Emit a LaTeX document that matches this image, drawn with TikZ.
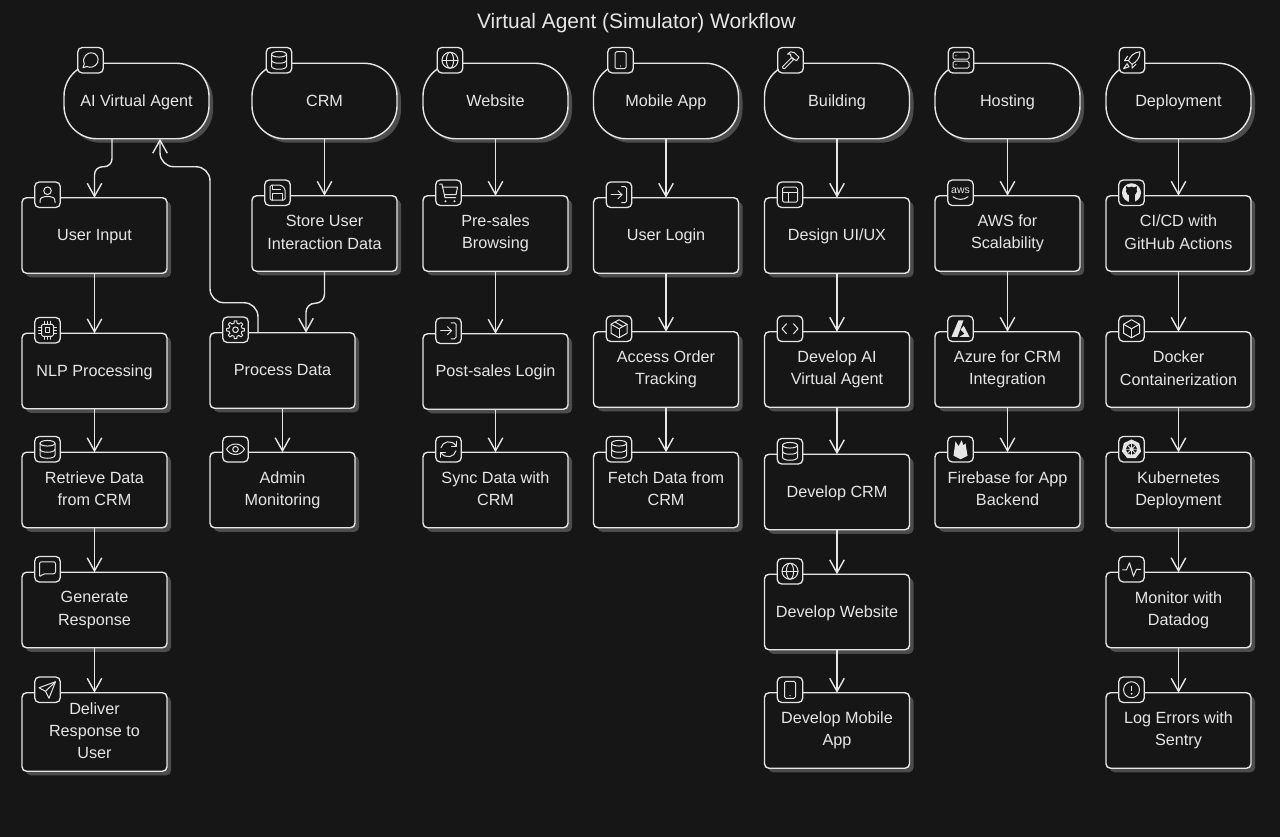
\documentclass[tikz,border=0pt]{standalone}
\usepackage{fontspec}
\setmainfont{Liberation Sans}
\usetikzlibrary{arrows.meta,shadows}
\definecolor{pagebg}{HTML}{161616}
\definecolor{ink}{HTML}{E6E6E6}
\definecolor{shadowgray}{HTML}{4C4C4C}
\tikzset{
  card/.style={draw=ink,fill=pagebg,line width=1.4pt,text=ink,outer sep=0pt,align=center,
    minimum width=145pt,minimum height=75.5pt,rounded corners=4.5pt,
    general shadow={shadow xshift=4pt,shadow yshift=-4pt,fill=shadowgray},
    execute at begin node={\rule{0pt}{13.4pt}},execute at end node={\rule[-2.5pt]{0pt}{2.5pt}},
    font=\fontsize{16.2}{22.3}\selectfont},
  pill/.style={card,rounded corners=33pt},
  iconbox/.style={draw=ink,fill=pagebg,line width=1.3pt,outer sep=0pt,inner sep=0pt,
    minimum width=25.5pt,minimum height=25.5pt,rounded corners=4.5pt},
  flowarrow/.style={draw=ink,line width=1.4pt,-{Straight Barb[length=13pt,width=14.5pt]}},
  iconink/.style={draw=ink,line width=1pt,line cap=round,line join=round},
  chatic/.pic={\draw[iconink] (-7.5,7.5) -- (-6.2,3.6) .. controls (-9,-3) and (-3,-8) .. (1,-7.5) .. controls (6,-7.5) and (9,-2) .. (7,2.5) .. controls (5,7) and (-1,8) .. (-3.5,6.2) -- cycle;},
  dbic/.pic={\draw[iconink] (0,-6) ellipse[x radius=7.5,y radius=2.8];
    \draw[iconink] (-7.5,-6) -- (-7.5,6) .. controls (-7.5,10) and (7.5,10) .. (7.5,6) -- (7.5,-6);
    \draw[iconink] (-7.5,0) .. controls (-7.5,4) and (7.5,4) .. (7.5,0);},
  useric/.pic={\draw[iconink] (0,-4) circle[radius=3.8];
    \draw[iconink] (-7.5,8) -- (-7.5,6.5) .. controls (-7.5,3) and (-5,2) .. (-3,2) -- (3,2) .. controls (5,2) and (7.5,3) .. (7.5,6.5) -- (7.5,8);},
  saveic/.pic={\draw[iconink,rounded corners=1.5pt] (-7.5,-7.5) -- (4,-7.5) -- (7.5,-4) -- (7.5,7.5) -- (-7.5,7.5) -- cycle;
    \draw[iconink] (-5,7.5) -- (-5,1) -- (5,1) -- (5,7.5);
    \draw[iconink] (-5,-7.5) -- (-5,-3) -- (3,-3);},
  cpuic/.pic={\draw[iconink,rounded corners=1.5pt] (-6,-6) rectangle (6,6);
    \draw[iconink] (-2.3,-2.3) rectangle (2.3,2.3);
    \draw[iconink] (-3,-6) -- (-3,-9) (0,-6) -- (0,-9) (3,-6) -- (3,-9) (-3,6) -- (-3,9) (0,6) -- (0,9) (3,6) -- (3,9);
    \draw[iconink] (-6,-3) -- (-9,-3) (-6,0) -- (-9,0) (-6,3) -- (-9,3) (6,-3) -- (9,-3) (6,0) -- (9,0) (6,3) -- (9,3);},
  gearic/.pic={\draw[iconink] plot[domain=0:360,samples=120] (\x:{6.6+2.4*min(1,max(0,1.5*cos(8*\x)+.4))}) -- cycle;
    \draw[iconink] (0,0) circle[radius=2.8];},
  eyeic/.pic={\draw[iconink] (-9,0) .. controls (-5,-7) and (5,-7) .. (9,0) .. controls (5,7) and (-5,7) .. (-9,0) -- cycle;
    \draw[iconink] (0,0) circle[radius=2.8];},
  msgic/.pic={\draw[iconink,rounded corners=2pt] (-8,8) -- (-8,-7.5) -- (8,-7.5) -- (8,4.5) -- (-4.5,4.5) -- cycle;},
  sendic/.pic={\draw[iconink] (8,-8) -- (-8.5,-2) -- (-2,1.5) -- (1.5,8.5) -- cycle;
    \draw[iconink] (8,-8) -- (-2,1.5);},
  globeic/.pic={\draw[iconink] (0,0) circle[radius=8];
    \draw[iconink] (0,0) ellipse[x radius=3.6,y radius=8];
    \draw[iconink] (-8,0) -- (8,0);},
  cartic/.pic={\draw[iconink] (-9,-8.5) -- (-6.5,-8.5) -- (-3.5,5) -- (7,5);
    \draw[iconink] (-5.8,-5.5) -- (9,-5.5) -- (7.5,2) -- (-4.2,2);
    \fill[ink] (-3,8.5) circle[radius=1.1] (6,8.5) circle[radius=1.1];},
  loginic/.pic={\draw[iconink,rounded corners=1.5pt] (2.5,-8) -- (7.5,-8) -- (7.5,8) -- (2.5,8);
    \draw[iconink] (-8,0) -- (3,0);
    \draw[iconink] (-1,-4) -- (3,0) -- (-1,4);},
  refreshic/.pic={\draw[iconink] (-7.5,-1.5) .. controls (-6,-8) and (3,-10) .. (7.5,-3.5);
    \draw[iconink] (8,-8) -- (8,-3) -- (3,-3);
    \draw[iconink] (7.5,1.5) .. controls (6,8) and (-3,10) .. (-7.5,3.5);
    \draw[iconink] (-8,8) -- (-8,3) -- (-3,3);},
  boxic/.pic={\draw[iconink] (0,-9) -- (8,-4.5) -- (8,4.5) -- (0,9) -- (-8,4.5) -- (-8,-4.5) -- cycle;
    \draw[iconink] (-8,-4.5) -- (0,0) -- (8,-4.5);
    \draw[iconink] (0,0) -- (0,9);},
  pkgic/.pic={\draw[iconink] (0,-9) -- (8,-4.5) -- (8,4.5) -- (0,9) -- (-8,4.5) -- (-8,-4.5) -- cycle;
    \draw[iconink] (-8,-4.5) -- (0,0) -- (8,-4.5);
    \draw[iconink] (0,0) -- (0,9);
    \draw[iconink] (-4,-6.7) -- (4,-2.2);},
  tabletic/.pic={\draw[iconink,rounded corners=1.5pt] (-5.5,-8.5) rectangle (5.5,8.5);
    \fill[ink] (0,5.8) circle[radius=.7];},
  layoutic/.pic={\draw[iconink,rounded corners=1.5pt] (-7.5,-7.5) rectangle (7.5,7.5);
    \draw[iconink] (-7.5,-2.5) -- (7.5,-2.5);
    \draw[iconink] (-2,-2.5) -- (-2,7.5);},
  codeic/.pic={\draw[iconink] (-3.5,-5) -- (-8,0) -- (-3.5,5);
    \draw[iconink] (3.5,-5) -- (8,0) -- (3.5,5);},
  hammeric/.pic={\draw[iconink] (-8,6.5) -- (1,-2.5) -- (3,-.5) -- (-6,8.5) .. controls (-7,9) and (-8.5,7.5) .. (-8,6.5) -- cycle;
    \draw[iconink] (-3,-6) -- (0,-8.5) -- (4,-7.5) -- (8.5,-3) -- (6,.5) -- (3.5,-1) -- (.5,-3.5) -- (0,-6) -- cycle;},
  serveric/.pic={\draw[iconink,rounded corners=1.5pt] (-8,-8) rectangle (8,-1);
    \draw[iconink,rounded corners=1.5pt] (-8,1) rectangle (8,8);
    \fill[ink] (-5,-4.5) circle[radius=.6] (-5,4.5) circle[radius=.6];},
  awsic/.pic={\node[text=ink,inner sep=0pt,font=\fontsize{10.5}{10.5}\selectfont] (awsword) at (0,-2.5) {aws};
    \draw[iconink] (-7.5,4) .. controls (-3,7.5) and (3,7.5) .. (7.5,4);},
  githubic/.pic={\fill[ink] (0,0) circle[radius=9.5];
    \fill[pagebg] (0,-1.5) ellipse[x radius=5.6,y radius=4.6];
    \fill[pagebg] (-5.5,-6.5) -- (-2,-5) -- (-5,-2) -- cycle (5.5,-6.5) -- (2,-5) -- (5,-2) -- cycle;
    \fill[pagebg] (-3,2) rectangle (3,9.2);},
  azureic/.pic={\fill[ink] (-2,-8.5) -- (3,-8.5) -- (-3,8) -- (-9,8) -- cycle;
    \fill[ink] (3.2,-3) -- (9,8) -- (-1,8) -- (4,5) -- (0,1) -- cycle;},
  firebaseic/.pic={\fill[ink] (-7,6.5) -- (-5,-8) -- (-2,-3) -- (1,-9) -- (3,-4) -- (5,-6) -- (7,6.5) -- (0,10) -- cycle;},
  kubeic/.pic={\fill[ink] (-90:9.8) -- (-38.6:9.8) -- (12.9:9.8) -- (64.3:9.8) -- (115.7:9.8) -- (167.1:9.8) -- (218.6:9.8) -- cycle;
    \fill[pagebg] (0,0) circle[radius=5.6];
    \fill[ink] (0,0) circle[radius=2];
    \draw[ink,line width=.9pt] (0,-6) -- (0,6) (-6,0) -- (6,0) (-4,-4) -- (4,4) (-4,4) -- (4,-4);},
  activityic/.pic={\draw[iconink] (-9,.5) -- (-5,.5) -- (-2,-6.5) -- (2,7) -- (5,0) -- (9,0);},
  alertic/.pic={\draw[iconink] (0,0) circle[radius=8];
    \draw[ink,line width=1.5pt] (0,-4) -- (0,1);
    \fill[ink] (0,4) circle[radius=1];},
  rocketic/.pic={\draw[iconink] (8,-8.5) .. controls (2,-8) and (-2,-4) .. (-3.5,.5) -- (0,4) .. controls (4,2) and (8,-2) .. (8,-8.5) -- cycle;
    \draw[iconink] (-3.5,.5) -- (-7.5,.5) -- (-4.5,-4);
    \draw[iconink] (0,4) -- (0,8) -- (4,4);
    \draw[iconink] (-5,3.5) -- (-8.5,8.5) -- (-3,6.5) -- cycle;}
}
\begin{document}
\begin{tikzpicture}[x=1pt,y=-1pt]
\useasboundingbox (0,0) rectangle (1280,837);
\fill[pagebg] (0,0) rectangle (1280,837);
\node[text=ink,font=\fontsize{20.9}{25}\selectfont] (title) at (636.5,23) {Virtual Agent (Simulator) Workflow};
% top row
\node[pill] (agent) at (136.5,101) {AI Virtual Agent};
\node[pill] (crm) at (324.5,101) {CRM};
\node[pill] (website) at (495.5,101) {Website};
\node[pill] (mobile) at (666,101) {Mobile App};
\node[pill] (building) at (837,101) {Building};
\node[pill] (hosting) at (1007.5,101) {Hosting};
\node[pill] (deployment) at (1178.5,101) {Deployment};
% agent column
\node[card] (input) at (94.5,235.5) {User Input};
\node[card] (nlp) at (94.5,371) {NLP Processing};
\node[card] (retrieve) at (94.5,490) {Retrieve Data\\from CRM};
\node[card] (generate) at (94.5,610) {Generate\\Response};
\node[card,minimum height=78.5pt] (deliver) at (94.5,732) {Deliver\\Response to\\User};
% crm column
\node[card] (store) at (324.5,233.5) {Store User\\Interaction Data};
\node[card] (process) at (282.5,370.5) {Process Data};
\node[card] (admin) at (282.5,490) {Admin\\Monitoring};
% website column
\node[card] (presales) at (495.5,233.5) {Pre-sales\\Browsing};
\node[card] (postsales) at (495.5,371.5) {Post-sales Login};
\node[card] (sync) at (495.5,490) {Sync Data with\\CRM};
% mobile column
\node[card] (login) at (666,235.5) {User Login};
\node[card] (tracking) at (666,369.5) {Access Order\\Tracking};
\node[card] (fetch) at (666,490) {Fetch Data from\\CRM};
% building column
\node[card] (design) at (837,235.5) {Design UI/UX};
\node[card] (devagent) at (837,369.5) {Develop AI\\Virtual Agent};
\node[card] (devcrm) at (837,492) {Develop CRM};
\node[card] (devweb) at (837,612) {Develop Website};
\node[card] (devapp) at (837,730.5) {Develop Mobile\\App};
% hosting column
\node[card] (aws) at (1007.5,233.5) {AWS for\\Scalability};
\node[card] (azure) at (1007.5,369.5) {Azure for CRM\\Integration};
\node[card] (firebase) at (1007.5,490) {Firebase for App\\Backend};
% deployment column
\node[card] (cicd) at (1178.5,233.5) {CI/CD with\\GitHub Actions};
\node[card] (docker) at (1178.5,369.5) {Docker\\Containerization};
\node[card] (kube) at (1178.5,490) {Kubernetes\\Deployment};
\node[card] (monitor) at (1178.5,610) {Monitor with\\Datadog};
\node[card] (sentry) at (1178.5,730.5) {Log Errors with\\Sentry};
% connectors
\draw[flowarrow,rounded corners=8pt] ([xshift=-24.5pt]agent.south) -- ++(0,28) -| (input.north);
\draw[flowarrow] (input) -- (nlp);
\draw[flowarrow] (nlp) -- (retrieve);
\draw[flowarrow] (retrieve) -- (generate);
\draw[flowarrow] (generate) -- (deliver);
\draw[flowarrow] (crm) -- (store);
\draw[flowarrow,rounded corners=9pt] (store.south) -- ++(0,32) -| ([xshift=23.5pt]process.north);
\draw[flowarrow,rounded corners=14pt] ([xshift=-24.5pt]process.north) -- ++(0,-30) -- ++(-48,0) -- ++(0,-136) -- ++(-50,0) -- ([xshift=23.5pt]agent.south);
\draw[flowarrow] (process) -- (admin);
\draw[flowarrow] (website) -- (presales);
\draw[flowarrow] (presales) -- (postsales);
\draw[flowarrow] (postsales) -- (sync);
\draw[flowarrow] (mobile) -- (login);
\draw[flowarrow] (login) -- (tracking);
\draw[flowarrow] (tracking) -- (fetch);
\draw[flowarrow] (building) -- (design);
\draw[flowarrow] (design) -- (devagent);
\draw[flowarrow] (devagent) -- (devcrm);
\draw[flowarrow] (devcrm) -- (devweb);
\draw[flowarrow] (devweb) -- (devapp);
\draw[flowarrow] (hosting) -- (aws);
\draw[flowarrow] (aws) -- (azure);
\draw[flowarrow] (azure) -- (firebase);
\draw[flowarrow] (deployment) -- (cicd);
\draw[flowarrow] (cicd) -- (docker);
\draw[flowarrow] (docker) -- (kube);
\draw[flowarrow] (kube) -- (monitor);
\draw[flowarrow] (monitor) -- (sentry);
% icon badges
\node[iconbox] (agentbadge) at ([shift={(26.5,-3)}]agent.north west) {}; \pic at (agentbadge) {chatic};
\node[iconbox] (crmbadge) at ([shift={(27,-3)}]crm.north west) {}; \pic at (crmbadge) {dbic};
\node[iconbox] (websitebadge) at ([shift={(27,-3)}]website.north west) {}; \pic at (websitebadge) {globeic};
\node[iconbox] (mobilebadge) at ([shift={(27,-3)}]mobile.north west) {}; \pic at (mobilebadge) {tabletic};
\node[iconbox] (buildingbadge) at ([shift={(26,-3)}]building.north west) {}; \pic at (buildingbadge) {hammeric};
\node[iconbox] (hostingbadge) at ([shift={(26,-3)}]hosting.north west) {}; \pic at (hostingbadge) {serveric};
\node[iconbox] (deploymentbadge) at ([shift={(26,-3)}]deployment.north west) {}; \pic at (deploymentbadge) {rocketic};
\node[iconbox] (inputbadge) at ([shift={(25.5,-3)}]input.north west) {}; \pic at (inputbadge) {useric};
\node[iconbox] (nlpbadge) at ([shift={(25.5,-3)}]nlp.north west) {}; \pic at (nlpbadge) {cpuic};
\node[iconbox] (retrievebadge) at ([shift={(25.5,-3)}]retrieve.north west) {}; \pic at (retrievebadge) {dbic};
\node[iconbox] (generatebadge) at ([shift={(25.5,-3)}]generate.north west) {}; \pic at (generatebadge) {msgic};
\node[iconbox] (deliverbadge) at ([shift={(25.5,-3)}]deliver.north west) {}; \pic at (deliverbadge) {sendic};
\node[iconbox] (storebadge) at ([shift={(25.5,-3)}]store.north west) {}; \pic at (storebadge) {saveic};
\node[iconbox] (processbadge) at ([shift={(25.5,-3)}]process.north west) {}; \pic at (processbadge) {gearic};
\node[iconbox] (adminbadge) at ([shift={(25.5,-3)}]admin.north west) {}; \pic at (adminbadge) {eyeic};
\node[iconbox] (presalesbadge) at ([shift={(25.5,-3)}]presales.north west) {}; \pic at (presalesbadge) {cartic};
\node[iconbox] (postsalesbadge) at ([shift={(25.5,-3)}]postsales.north west) {}; \pic at (postsalesbadge) {loginic};
\node[iconbox] (syncbadge) at ([shift={(25.5,-3)}]sync.north west) {}; \pic at (syncbadge) {refreshic};
\node[iconbox] (loginbadge) at ([shift={(25.5,-3)}]login.north west) {}; \pic at (loginbadge) {loginic};
\node[iconbox] (trackingbadge) at ([shift={(25.5,-3)}]tracking.north west) {}; \pic at (trackingbadge) {pkgic};
\node[iconbox] (fetchbadge) at ([shift={(25.5,-3)}]fetch.north west) {}; \pic at (fetchbadge) {dbic};
\node[iconbox] (designbadge) at ([shift={(25.5,-3)}]design.north west) {}; \pic at (designbadge) {layoutic};
\node[iconbox] (devagentbadge) at ([shift={(25.5,-3)}]devagent.north west) {}; \pic at (devagentbadge) {codeic};
\node[iconbox] (devcrmbadge) at ([shift={(25.5,-3)}]devcrm.north west) {}; \pic at (devcrmbadge) {dbic};
\node[iconbox] (devwebbadge) at ([shift={(25.5,-3)}]devweb.north west) {}; \pic at (devwebbadge) {globeic};
\node[iconbox] (devappbadge) at ([shift={(25.5,-3)}]devapp.north west) {}; \pic at (devappbadge) {tabletic};
\node[iconbox] (awsbadge) at ([shift={(25.5,-3)}]aws.north west) {}; \pic at (awsbadge) {awsic};
\node[iconbox] (azurebadge) at ([shift={(25.5,-3)}]azure.north west) {}; \pic at (azurebadge) {azureic};
\node[iconbox] (firebasebadge) at ([shift={(25.5,-3)}]firebase.north west) {}; \pic at (firebasebadge) {firebaseic};
\node[iconbox] (cicdbadge) at ([shift={(25.5,-3)}]cicd.north west) {}; \pic at (cicdbadge) {githubic};
\node[iconbox] (dockerbadge) at ([shift={(25.5,-3)}]docker.north west) {}; \pic at (dockerbadge) {boxic};
\node[iconbox] (kubebadge) at ([shift={(25.5,-3)}]kube.north west) {}; \pic at (kubebadge) {kubeic};
\node[iconbox] (monitorbadge) at ([shift={(25.5,-3)}]monitor.north west) {}; \pic at (monitorbadge) {activityic};
\node[iconbox] (sentrybadge) at ([shift={(25.5,-3)}]sentry.north west) {}; \pic at (sentrybadge) {alertic};
\end{tikzpicture}
\end{document}
